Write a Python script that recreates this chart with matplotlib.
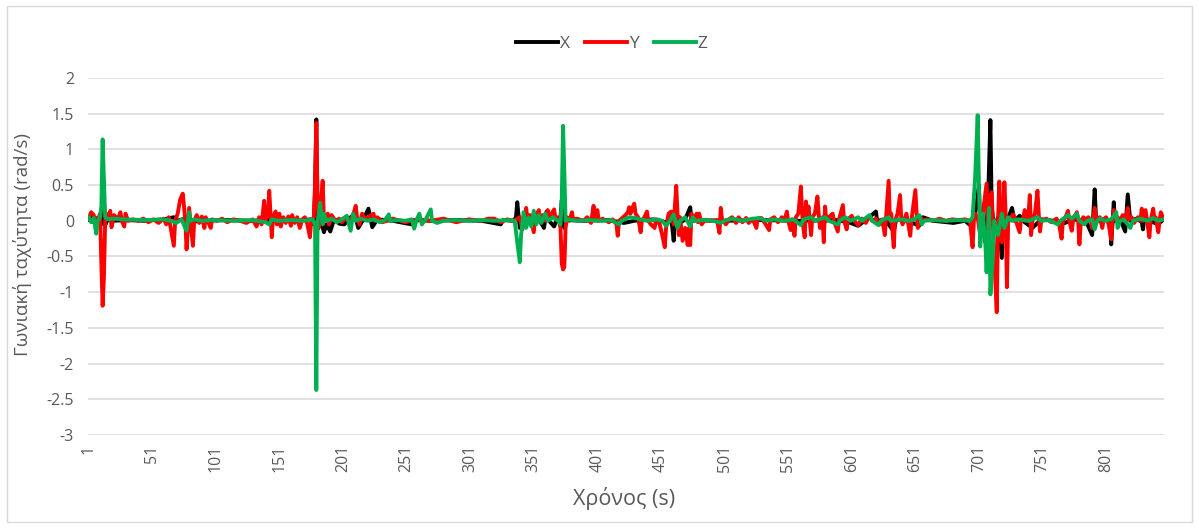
import matplotlib.pyplot as plt
from matplotlib.patches import Rectangle

# angular velocity per axis, (sample, rad/s)
x_pts = [
    (1, 0.02), (3, 0.06), (5, -0.02), (8, 0.04), (11, -0.05), (12, 0.05), (13, 0.28), (14, -0.06), (16, 0.02), (20, 0.0),
    (30, 0.01), (45, 0.0), (60, 0.02), (68, 0.05), (70, 0.0), (77, 0.03), (79, -0.02), (90, 0.0), (110, 0.01), (130, 0.0),
    (150, 0.02), (165, 0.0), (175, 0.02), (178, -0.05), (179, 0.4), (180, 1.42), (181, -0.12), (183, 0.05), (186, -0.16), (188, -0.05),
    (191, -0.15), (194, 0.02), (198, -0.04), (202, -0.05), (206, 0.03), (210, 0.1), (213, -0.1), (217, 0.02), (221, 0.17), (224, -0.09),
    (228, 0.02), (240, 0.0), (255, -0.05), (257, 0.01), (270, 0.0), (290, 0.01), (310, 0.0), (325, -0.05), (327, 0.01), (335, 0.0),
    (337, 0.05), (338, 0.26), (340, -0.1), (341, 0.02), (345, -0.03), (355, 0.02), (359, -0.1), (361, 0.13), (363, 0.0), (367, -0.08),
    (369, 0.02), (372, 0.05), (373, 0.29), (375, -0.1), (377, 0.01), (390, 0.0), (410, 0.01), (422, -0.03), (430, 0.0), (445, 0.02),
    (455, -0.02), (459, 0.05), (461, -0.28), (462, 0.02), (466, -0.03), (470, 0.02), (474, 0.19), (475, 0.0), (480, 0.01), (500, 0.0),
    (530, 0.01), (560, 0.0), (590, 0.01), (600, -0.03), (606, -0.07), (612, 0.01), (620, 0.13), (621, 0.0), (628, 0.02), (630, -0.05),
    (634, -0.15), (636, 0.02), (645, 0.0), (654, -0.07), (657, 0.05), (665, 0.0), (681, -0.03), (690, 0.0), (694, -0.06), (697, 0.05),
    (699, 0.2), (701, 0.5), (702, -0.1), (704, 0.05), (706, -0.3), (708, 0.2), (710, 1.41), (711, 0.2), (713, -0.1), (716, 0.05),
    (719, -0.52), (720, 0.0), (724, 0.04), (727, 0.18), (729, 0.0), (733, 0.07), (737, -0.02), (743, -0.1), (750, 0.02), (760, 0.0),
    (766, -0.05), (775, 0.02), (785, 0.0), (790, -0.2), (792, 0.44), (793, 0.05), (795, 0.0), (800, 0.03), (804, 0.0), (805, -0.33),
    (807, 0.26), (808, 0.0), (812, 0.02), (816, -0.15), (818, 0.37), (820, 0.0), (825, 0.03), (829, -0.02), (830, -0.12), (831, 0.05),
    (835, 0.0), (842, -0.05), (846, 0.02),
]

y_pts = [
    (1, 0.03), (3, 0.12), (5, 0.08), (7, -0.05), (9, 0.05), (10, 0.1), (11, -0.6), (12, -1.19), (13, -0.8), (14, 0.0),
    (15, 0.1), (17, 0.05), (18, 0.14), (19, -0.09), (21, 0.08), (24, 0.02), (26, 0.12), (27, 0.0), (29, -0.08), (30, 0.1),
    (32, 0.0), (36, 0.02), (40, 0.0), (44, 0.03), (48, -0.02), (52, 0.02), (56, -0.03), (60, 0.03), (62, -0.05), (64, 0.05),
    (66, -0.15), (68, -0.35), (69, 0.0), (71, 0.1), (73, 0.3), (75, 0.38), (76, 0.2), (77, 0.0), (78, -0.4), (79, -0.1),
    (80, 0.18), (81, 0.0), (83, -0.35), (84, 0.0), (86, 0.08), (88, -0.03), (90, 0.06), (92, -0.1), (93, 0.05), (95, -0.02),
    (97, -0.1), (98, 0.02), (102, 0.0), (106, 0.03), (110, -0.02), (115, 0.02), (120, 0.0), (125, -0.03), (130, 0.02), (133, -0.08),
    (135, 0.05), (137, -0.05), (139, 0.28), (140, 0.0), (142, 0.1), (143, 0.42), (144, 0.1), (145, -0.23), (146, 0.05), (148, 0.13),
    (149, -0.05), (151, 0.1), (152, -0.08), (154, 0.05), (156, -0.03), (158, 0.06), (160, -0.07), (161, 0.08), (163, -0.03), (165, 0.05),
    (167, -0.1), (169, 0.02), (171, 0.05), (173, -0.05), (175, -0.23), (176, 0.0), (178, 0.05), (179, 0.5), (180, 1.37), (181, 0.3),
    (182, -0.1), (183, 0.1), (185, 0.56), (186, 0.0), (187, 0.05), (189, 0.1), (190, -0.05), (192, 0.08), (195, 0.0), (198, 0.03),
    (200, -0.02), (203, 0.03), (206, 0.0), (209, 0.08), (211, 0.21), (212, 0.05), (214, -0.05), (216, 0.1), (218, 0.03), (221, 0.05),
    (225, 0.1), (226, 0.0), (228, 0.05), (232, -0.02), (240, 0.03), (250, -0.02), (260, 0.02), (270, 0.0), (280, 0.03), (290, -0.02),
    (300, 0.02), (310, 0.0), (315, 0.03), (320, 0.03), (325, -0.02), (330, 0.02), (335, 0.0), (340, 0.05), (342, -0.12), (345, 0.18),
    (346, 0.02), (348, 0.08), (351, -0.16), (352, 0.05), (355, 0.15), (356, -0.02), (358, 0.08), (360, 0.0), (362, 0.15), (363, 0.02),
    (365, 0.1), (367, 0.16), (368, 0.03), (370, 0.05), (372, -0.1), (373, -0.6), (374, -0.68), (375, -0.65), (376, -0.1), (377, 0.05),
    (379, 0.0), (381, 0.12), (382, 0.02), (385, 0.03), (390, 0.0), (393, 0.05), (396, -0.03), (398, 0.21), (399, 0.02), (401, 0.15),
    (402, 0.0), (405, 0.03), (410, -0.02), (413, 0.02), (416, -0.05), (417, -0.21), (418, 0.0), (420, 0.03), (423, 0.08), (425, 0.12),
    (426, 0.19), (427, 0.1), (429, 0.2), (430, 0.24), (431, 0.1), (433, 0.05), (435, -0.16), (436, 0.0), (438, 0.05), (440, 0.13),
    (441, 0.0), (443, -0.05), (446, -0.1), (447, 0.02), (450, -0.05), (452, -0.2), (454, -0.37), (455, -0.1), (457, 0.1), (459, 0.13),
    (460, 0.05), (461, -0.05), (463, 0.49), (464, 0.1), (465, -0.2), (466, 0.05), (468, -0.28), (470, -0.1), (472, -0.34), (473, -0.1),
    (474, -0.34), (475, 0.1), (477, 0.0), (479, 0.1), (480, -0.02), (481, 0.1), (483, -0.05), (485, 0.0), (490, 0.0), (495, 0.01),
    (497, -0.17), (498, 0.18), (499, 0.02), (502, -0.05), (505, 0.03), (507, 0.05), (510, -0.03), (512, 0.05), (515, -0.02), (518, 0.04),
    (520, -0.03), (523, 0.03), (526, -0.1), (527, 0.02), (530, 0.04), (533, -0.04), (536, -0.13), (537, 0.02), (540, 0.05), (543, -0.02),
    (546, 0.05), (548, 0.0), (550, 0.13), (551, 0.0), (553, -0.13), (554, 0.02), (556, -0.21), (557, 0.05), (559, 0.1), (561, 0.48),
    (562, 0.1), (563, -0.1), (564, -0.23), (565, 0.27), (566, 0.05), (567, 0.2), (568, 0.0), (569, -0.2), (570, 0.05), (572, 0.1),
    (574, 0.34), (575, 0.1), (576, -0.1), (578, 0.05), (579, -0.3), (580, 0.2), (581, 0.0), (583, 0.05), (586, 0.1), (587, 0.0),
    (590, -0.15), (591, 0.02), (594, 0.22), (595, 0.0), (597, -0.12), (598, 0.02), (601, 0.07), (603, 0.0), (606, -0.06), (609, 0.03),
    (612, -0.03), (615, 0.07), (617, 0.0), (620, 0.03), (623, -0.05), (625, 0.02), (627, -0.2), (628, 0.05), (630, 0.56), (631, 0.0),
    (632, 0.1), (634, -0.37), (635, 0.0), (637, 0.1), (639, 0.36), (640, 0.0), (641, -0.05), (643, 0.05), (644, 0.1), (645, 0.0),
    (647, -0.21), (648, 0.02), (650, 0.3), (651, 0.43), (652, 0.1), (653, -0.1), (655, 0.05), (657, 0.0), (660, 0.02), (665, 0.0),
    (670, 0.03), (675, 0.0), (680, 0.02), (685, 0.01), (690, 0.02), (694, 0.0), (696, -0.37), (697, 0.0), (698, 0.1), (700, 0.05),
    (702, -0.2), (704, 0.1), (707, 0.52), (708, -0.1), (709, 0.3), (711, 0.4), (713, -0.5), (715, -1.28), (716, 0.0), (717, 0.55),
    (718, 0.1), (719, -0.3), (720, 0.0), (721, 0.54), (722, 0.1), (723, -0.93), (724, 0.0), (726, 0.05), (728, 0.09), (730, 0.0),
    (733, -0.16), (734, 0.0), (736, 0.05), (737, 0.15), (738, 0.0), (740, 0.1), (741, 0.36), (742, -0.2), (743, 0.0), (745, 0.1),
    (747, 0.42), (748, 0.1), (749, -0.15), (750, 0.0), (754, 0.03), (758, -0.02), (762, 0.03), (764, -0.05), (766, -0.25), (767, 0.0),
    (769, 0.05), (771, 0.14), (772, 0.0), (774, -0.14), (775, 0.0), (776, 0.05), (778, 0.12), (779, 0.0), (780, -0.33), (781, -0.05),
    (783, 0.05), (785, 0.02), (787, 0.05), (789, 0.0), (790, -0.1), (792, 0.18), (793, 0.02), (796, 0.05), (798, -0.1), (799, 0.02),
    (801, 0.05), (803, -0.05), (805, -0.26), (806, 0.0), (807, 0.15), (808, 0.02), (810, 0.05), (812, 0.0), (814, 0.08), (816, 0.0),
    (818, 0.18), (819, 0.02), (821, 0.05), (823, -0.03), (826, 0.05), (828, 0.0), (829, 0.17), (830, 0.0), (832, 0.15), (833, 0.02),
    (835, -0.23), (836, 0.0), (838, 0.17), (839, 0.02), (840, 0.05), (842, -0.16), (843, 0.0), (844, 0.12), (846, 0.03),
]

z_pts = [
    (1, 0.05), (3, -0.02), (5, 0.04), (7, -0.18), (8, 0.0), (10, 0.05), (11, 0.2), (12, 1.14), (13, 0.6), (14, 0.05),
    (16, 0.02), (20, 0.03), (30, 0.02), (45, 0.01), (60, 0.02), (66, 0.0), (70, -0.03), (74, 0.02), (78, -0.14), (80, 0.12),
    (81, 0.0), (84, 0.02), (90, 0.0), (100, 0.01), (115, 0.0), (130, 0.01), (140, -0.02), (143, -0.05), (145, 0.02), (150, 0.0),
    (160, 0.01), (170, 0.0), (177, 0.02), (179, -0.05), (180, -2.37), (181, 0.0), (182, 0.1), (183, 0.25), (184, 0.08), (185, -0.05),
    (186, 0.1), (188, 0.0), (192, 0.03), (196, -0.02), (200, 0.02), (204, 0.07), (206, -0.07), (207, -0.14), (209, 0.1), (211, 0.0),
    (215, 0.03), (220, 0.0), (225, 0.02), (230, -0.02), (234, 0.01), (237, 0.09), (238, 0.0), (245, 0.01), (250, 0.0), (255, 0.02),
    (257, -0.11), (259, 0.02), (261, 0.1), (263, -0.05), (266, 0.02), (270, 0.16), (271, 0.0), (275, -0.03), (280, 0.0), (290, 0.01),
    (300, 0.0), (310, 0.01), (320, 0.0), (330, 0.01), (336, 0.0), (338, -0.3), (340, -0.58), (341, -0.2), (343, 0.12), (345, -0.1),
    (347, 0.05), (349, -0.08), (351, 0.14), (353, -0.05), (355, 0.08), (357, -0.03), (360, 0.1), (362, 0.0), (366, 0.05), (370, 0.0),
    (372, -0.05), (373, 0.3), (374, 1.33), (375, 0.7), (376, 0.0), (378, 0.02), (385, 0.0), (395, 0.01), (405, 0.0), (412, 0.01),
    (418, -0.05), (420, 0.0), (426, 0.05), (430, 0.04), (440, 0.0), (448, 0.02), (452, 0.0), (455, -0.07), (458, 0.0), (461, 0.09),
    (462, 0.02), (464, -0.1), (466, 0.0), (470, 0.05), (474, -0.08), (476, 0.05), (478, 0.0), (485, 0.01), (492, 0.0), (498, -0.03),
    (502, 0.01), (508, 0.03), (514, 0.0), (520, 0.02), (528, 0.04), (534, 0.0), (540, 0.02), (548, 0.0), (555, 0.02), (561, -0.06),
    (563, 0.02), (569, 0.05), (572, 0.0), (580, 0.05), (583, 0.0), (590, -0.05), (592, 0.01), (596, 0.05), (600, 0.0), (606, 0.05),
    (609, 0.0), (615, 0.08), (617, 0.0), (622, -0.06), (624, 0.0), (630, 0.05), (632, 0.0), (640, 0.02), (646, 0.0), (650, 0.02),
    (654, 0.08), (656, -0.05), (658, 0.0), (665, 0.01), (675, 0.0), (685, 0.01), (694, 0.0), (696, 0.05), (698, 0.6), (700, 1.48),
    (701, 0.5), (702, -0.36), (704, 0.1), (706, -0.3), (707, -0.72), (709, 0.18), (710, -1.03), (712, -0.5), (713, 0.0), (716, -0.2),
    (719, 0.1), (721, -0.1), (724, 0.05), (727, 0.0), (732, 0.02), (740, 0.0), (747, 0.05), (750, 0.0), (756, 0.01), (763, -0.05),
    (765, 0.0), (771, 0.08), (774, 0.03), (778, 0.1), (780, 0.0), (784, -0.05), (786, 0.0), (790, 0.02), (792, -0.12), (794, 0.0),
    (796, 0.03), (800, 0.0), (805, 0.02), (809, 0.12), (810, -0.1), (812, 0.0), (815, 0.02), (820, -0.1), (822, 0.0), (828, 0.03),
    (834, 0.0), (838, 0.04), (842, 0.0), (846, 0.02),
]

series_names = ["X", "Y", "Z"]
n_samples = 846
x_ticks = list(range(1, 802, 50))
y_ticks = [-3, -2.5, -2, -1.5, -1, -0.5, 0, 0.5, 1, 1.5, 2]

plt.rcParams["font.family"] = ["Open Sans", "DejaVu Sans"]
plt.rcParams["axes.unicode_minus"] = False
grey = "#595959"

W, H = 1199, 528
fig = plt.figure(figsize=(W / 100, H / 100), dpi=100)
ax = fig.add_axes([88 / W, 1 - 435 / H, (1164 - 88) / W, (435 - 78) / H])

colors = ["#000000", "#FF0000", "#00B050"]
for name, pts, c in zip(series_names, [x_pts, y_pts, z_pts], colors):
    t, w = zip(*pts)
    ax.plot(t, w, color=c, lw=2.8, label=name, solid_joinstyle="round")

ax.set_xlim(0.5, n_samples + 0.5)
ax.set_ylim(-3, 2)
ax.set_yticks(y_ticks)
ax.set_yticklabels([f"{v:g}" for v in y_ticks])
ax.set_xticks(x_ticks)
ax.set_xticklabels([str(v) for v in x_ticks], rotation=90)
ax.grid(axis="y", color="#D9D9D9", lw=1.1)
ax.set_axisbelow(True)
for s in ax.spines.values():
    s.set_visible(False)
ax.tick_params(axis="y", length=0, colors=grey, labelsize=11.5, pad=10)
ax.tick_params(axis="x", length=0, colors=grey, labelsize=11.5, pad=7)

ax.set_ylabel("Γωνιακή ταχύτητα (rad/s)", fontsize=13.5, color=grey)
ax.yaxis.set_label_coords(-0.052, 0.535)
ax.set_xlabel("Χρόνος (s)", fontsize=15.5, color=grey)
ax.xaxis.set_label_coords(0.498, -0.146)

fig.legend(loc="center", bbox_to_anchor=(612 / W, 1 - 44 / H), ncol=3, frameon=False,
           fontsize=12.5, labelcolor=grey, handlelength=2.4, handletextpad=0.1, columnspacing=0.9)

fig.patches.append(Rectangle((0.006, 0.012), 0.988, 0.976, transform=fig.transFigure,
                             fill=False, ec="#D9D9D9", lw=1))

fig.savefig("out.png", dpi=100)
